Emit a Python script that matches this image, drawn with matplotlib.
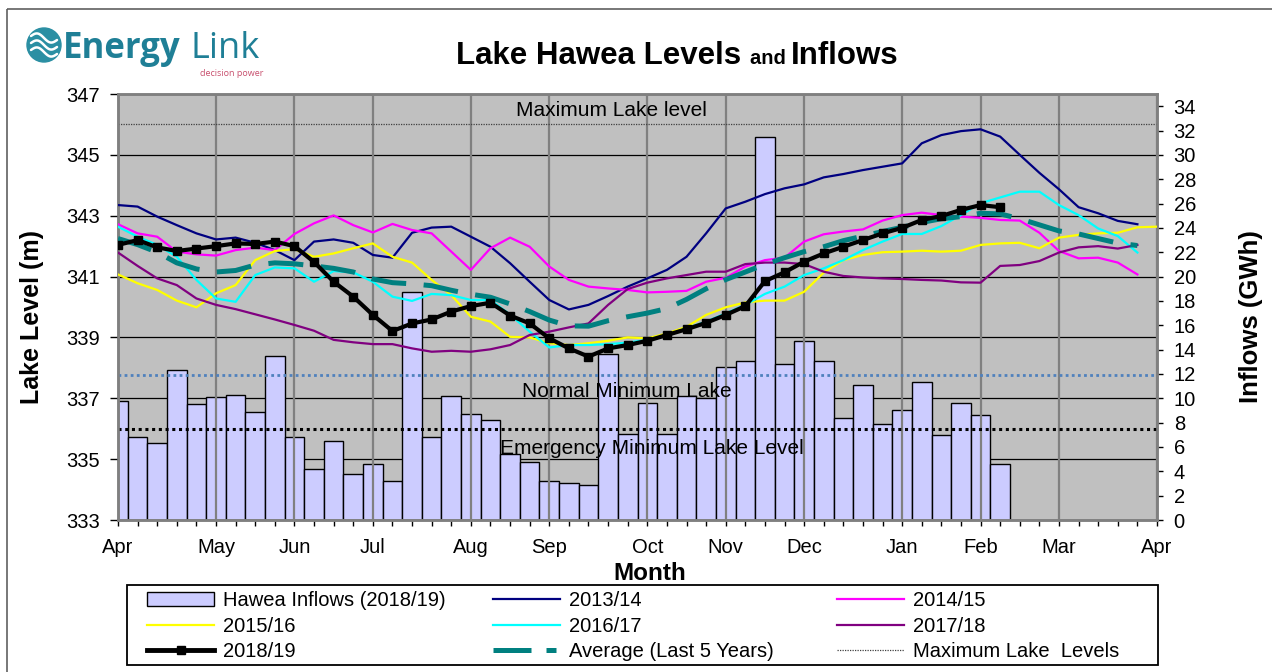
import matplotlib
matplotlib.use('Agg')
import matplotlib.pyplot as plt
import numpy as np
from matplotlib.patches import Circle, Rectangle, Patch
from matplotlib.lines import Line2D

plt.rcParams['font.family'] = ['Liberation Sans', 'DejaVu Sans']

# ---------------- data ----------------
month_labels = ['Apr', 'May', 'Jun', 'Jul', 'Aug', 'Sep', 'Oct', 'Nov', 'Dec',
                'Jan', 'Feb', 'Mar', 'Apr']
month_weeks = [0, 5, 9, 13, 18, 22, 27, 31, 35, 40, 44, 48, 53]

inflows_2018_19 = [9.8, 6.8, 6.3, 12.3, 9.5, 10.1, 10.3, 8.9, 13.5, 6.8,
                   4.2, 6.5, 3.8, 4.6, 3.2, 18.7, 6.8, 10.2, 8.7, 8.2,
                   5.4, 4.8, 3.2, 3.0, 2.9, 13.6, 7.1, 9.6, 7.1, 10.2,
                   10.0, 12.6, 13.1, 31.5, 12.8, 14.7, 13.1, 8.4, 11.1, 7.9,
                   9.0, 11.3, 7.0, 9.6, 8.6, 4.6]

level_2013_14 = [343.35, 343.30, 342.97, 342.69, 342.42, 342.22, 342.28, 342.11, 341.87, 341.54,
                 342.15, 342.22, 342.11, 341.71, 341.62, 342.44, 342.61, 342.64, 342.31, 341.98,
                 341.44, 340.83, 340.23, 339.92, 340.07, 340.36, 340.67, 340.94, 341.22, 341.65,
                 342.42, 343.24, 343.46, 343.71, 343.90, 344.03, 344.26, 344.37, 344.50, 344.61,
                 344.72, 345.38, 345.65, 345.78, 345.84, 345.60, 345.00, 344.41, 343.87, 343.28,
                 343.08, 342.83, 342.72]
level_2014_15 = [342.72, 342.42, 342.31, 341.82, 341.73, 341.69, 341.87, 341.95, 341.87, 342.40,
                 342.75, 343.01, 342.69, 342.45, 342.73, 342.53, 342.42, 341.82, 341.22, 341.93,
                 342.28, 341.98, 341.33, 340.89, 340.67, 340.61, 340.56, 340.48, 340.50, 340.53,
                 340.83, 340.96, 341.33, 341.54, 341.62, 342.15, 342.39, 342.48, 342.55, 342.84,
                 343.02, 343.10, 343.02, 342.97, 342.93, 342.86, 342.84, 342.44, 341.84, 341.60,
                 341.62, 341.46, 341.07]
level_2015_16 = [341.07, 340.78, 340.56, 340.21, 339.99, 340.45, 340.72, 341.54, 341.84, 341.90,
                 341.65, 341.76, 341.93, 342.09, 341.65, 341.46, 340.89, 340.39, 339.68, 339.52,
                 339.02, 339.00, 338.81, 338.75, 338.81, 338.89, 339.00, 338.97, 339.13, 339.35,
                 339.74, 339.99, 340.15, 340.21, 340.21, 340.50, 341.13, 341.54, 341.71, 341.80,
                 341.82, 341.85, 341.82, 341.85, 342.04, 342.09, 342.11, 341.93, 342.28, 342.37,
                 342.42, 342.44, 342.62, 342.64]
level_2016_17 = [342.64, 342.31, 342.04, 341.65, 340.89, 340.28, 340.17, 341.05, 341.30, 341.27,
                 340.83, 341.18, 341.14, 340.83, 340.34, 340.20, 340.43, 340.39, 340.23, 340.23,
                 339.75, 339.19, 338.67, 338.75, 338.75, 338.78, 338.83, 338.92, 339.08, 339.30,
                 339.52, 339.79, 340.07, 340.43, 340.67, 341.05, 341.27, 341.54, 341.87, 342.15,
                 342.40, 342.40, 342.66, 343.02, 343.41, 343.60, 343.79, 343.79, 343.35, 343.02,
                 342.58, 342.33, 341.79]
level_2017_18 = [341.79, 341.35, 340.94, 340.72, 340.28, 340.07, 339.93, 339.76, 339.59, 339.41,
                 339.22, 338.92, 338.84, 338.78, 338.78, 338.64, 338.53, 338.56, 338.53, 338.61,
                 338.75, 339.08, 339.19, 339.33, 339.46, 340.07, 340.59, 340.80, 340.94, 341.05,
                 341.16, 341.16, 341.41, 341.46, 341.46, 341.41, 341.16, 341.02, 340.97, 340.94,
                 340.92, 340.89, 340.87, 340.81, 340.80, 341.35, 341.38, 341.51, 341.79, 341.96,
                 342.00, 341.92, 342.04]
level_2018_19 = [342.04, 342.20, 341.96, 341.84, 341.92, 342.00, 342.09, 342.07, 342.15, 342.00,
                 341.48, 340.83, 340.34, 339.74, 339.21, 339.46, 339.59, 339.85, 340.03, 340.14,
                 339.72, 339.46, 338.97, 338.64, 338.37, 338.64, 338.75, 338.89, 339.08, 339.27,
                 339.48, 339.74, 340.03, 340.85, 341.14, 341.49, 341.76, 341.98, 342.20, 342.42,
                 342.60, 342.86, 342.99, 343.19, 343.35, 343.28]
level_avg_5yr = [342.25, 342.05, 341.80, 341.45, 341.25, 341.15, 341.20, 341.38, 341.45, 341.42,
                 341.35, 341.27, 341.15, 340.92, 340.80, 340.76, 340.70, 340.55, 340.42, 340.32,
                 340.10, 339.85, 339.57, 339.38, 339.37, 339.55, 339.68, 339.80, 339.95, 340.25,
                 340.60, 340.90, 341.15, 341.40, 341.62, 341.82, 341.98, 342.18, 342.33, 342.48,
                 342.62, 342.78, 342.90, 342.97, 343.08, 343.06, 342.90, 342.70, 342.50, 342.40,
                 342.25, 342.10, 342.02]

max_lake_level = 346.0
normal_min_level = 337.78
emergency_min_level = 336.0

level_ticks = list(range(333, 348, 2))
inflow_ticks = list(range(0, 35, 2))

# ---------------- figure ----------------
W, H = 1272, 672
fig = plt.figure(figsize=(W / 100, H / 100), dpi=100)

ov = fig.add_axes([0, 0, 1, 1], zorder=0)
ov.set_xlim(0, W)
ov.set_ylim(H, 0)
ov.axis('off')

# outer frame (left/top visible)
ov.add_patch(Rectangle((7, 9), 1300, 700, fill=False, edgecolor='#606060', lw=1.2))

# logo
ov.add_patch(Circle((44, 45), 17, color='#2b8fa3'))
tt = np.linspace(0, 1, 50)
for off in (-7, 0, 7):
    xs = 31 + 26 * tt
    ys = 45 + off - 3.5 * np.sin(2 * np.pi * tt) + 4 * (tt - 0.5)
    ov.plot(xs, ys, color='white', lw=1.8, solid_capstyle='round')
ov.text(63, 58, 'Energy', fontsize=25, fontweight='bold', color='#1f7f96',
        family=['Open Sans', 'DejaVu Sans'], ha='left', va='baseline')
ov.text(191, 58, 'Link', fontsize=26, color='#1f7f96',
        family=['Open Sans', 'DejaVu Sans'], ha='left', va='baseline')
ov.text(263, 69, 'decision power', fontsize=6.5, color='#c8506e',
        family=['Open Sans', 'DejaVu Sans'], ha='right', va='top')

# main axes: bars (right axis) and levels (left axis)
ax_bar = fig.add_axes([118 / W, 1 - 520 / H, 1039 / W, 426 / H], zorder=1)
ax_lvl = ax_bar.twinx()
ax_bar.set_facecolor('#c0c0c0')

ax_bar.set_xlim(0, 53)
ax_bar.set_ylim(0, 35)
ax_lvl.set_ylim(333, 347)

# horizontal grid (behind bars), in lake-level coordinates
ax_lvl.set_yticks(level_ticks)
for lv in level_ticks:
    ax_bar.plot([0, 1], [lv, lv], transform=ax_lvl.get_yaxis_transform(),
                color='black', lw=0.9, zorder=1)

weeks_in = np.arange(len(inflows_2018_19))
ax_bar.bar(weeks_in, inflows_2018_19, width=1.0, color='#ccccff',
           edgecolor='black', linewidth=1.0, zorder=2)
for w in month_weeks:
    ax_bar.axvline(w, color='#808080', lw=1.6, zorder=3)

# reference levels
ax_lvl.axhline(max_lake_level, color='#404040', lw=0.9, ls=(0, (1, 1)), zorder=1)
ax_lvl.axhline(normal_min_level, color='#4f81bd', lw=2.0, ls=(0, (1, 1.2)), zorder=1)
ax_lvl.axhline(emergency_min_level, color='black', lw=2.2, ls=(0, (1, 1.2)), zorder=1)
ax_lvl.text(20.3, 346.45, 'Maximum Lake level', fontsize=15, ha='left', va='center')
ax_lvl.text(20.6, 337.22, 'Normal Minimum Lake', fontsize=15, ha='left', va='center')
ax_lvl.text(19.5, 335.36, 'Emergency Minimum Lake Level', fontsize=15, ha='left', va='center')

series = [
    (level_2013_14, '#000080', '2013/14'),
    (level_2014_15, '#ff00ff', '2014/15'),
    (level_2015_16, '#ffff00', '2015/16'),
    (level_2016_17, '#00ffff', '2016/17'),
    (level_2017_18, '#800080', '2017/18'),
]
handles = {}
for vals, col, lab in series:
    ln, = ax_lvl.plot(np.arange(len(vals)), vals, color=col, lw=1.6, zorder=3, label=lab)
    handles[lab] = ln
avg_ln, = ax_lvl.plot(np.arange(len(level_avg_5yr)), level_avg_5yr, color='#008080',
                      lw=3.6, dashes=(7, 3.5), zorder=4, label='Average (Last 5 Years)')
blk_ln, = ax_lvl.plot(np.arange(len(level_2018_19)), level_2018_19, color='black', lw=3,
                      marker='s', ms=6, zorder=5, label='2018/19')

# ticks & spines
TFS = 14.5
ax_bar.set_xticks(month_weeks)
ax_bar.set_xticklabels(month_labels, fontsize=TFS)
ax_bar.set_xticks(np.arange(0, 54), minor=True)
ax_bar.tick_params(axis='x', which='both', direction='out', length=4, width=1,
                   color='black', pad=9)
ax_bar.yaxis.tick_right()
ax_bar.set_yticks(inflow_ticks)
ax_bar.set_yticklabels([str(v) for v in inflow_ticks], fontsize=TFS)
ax_bar.tick_params(axis='y', direction='out', length=4, width=1, pad=8)

ax_lvl.yaxis.tick_left()
ax_lvl.set_yticklabels([str(v) for v in level_ticks], fontsize=TFS)
ax_lvl.tick_params(axis='y', direction='out', length=6, width=1, pad=7)

for a in (ax_bar, ax_lvl):
    for s in a.spines.values():
        s.set_color('#808080')
        s.set_linewidth(1.8)

# axis titles
ov.text(32, 317, 'Lake Level (m)', fontsize=18, fontweight='bold', rotation=90,
        ha='center', va='center')
ov.text(1251, 317, 'Inflows (GWh)', fontsize=18.5, fontweight='bold', rotation=90,
        ha='center', va='center')
ov.text(650, 574, 'Month', fontsize=17.5, fontweight='bold', ha='center', va='center')

# title built from runs
runs = [('Lake Hawea Levels ', 22.5), ('and ', 14.5), ('Inflows', 22.5)]
fig.canvas.draw()
r = fig.canvas.get_renderer()
objs = []
for txt, fs in runs:
    t = ov.text(0, 64, txt, fontsize=fs, fontweight='bold', ha='left', va='baseline')
    objs.append(t)
widths = [t.get_window_extent(r).width for t in objs]
x = 677.5 - sum(widths) / 2
for t, wdt in zip(objs, widths):
    t.set_x(x)
    x += wdt

# legend: frame + three columns
ov.add_patch(Rectangle((127, 585), 1031, 80, fill=False, edgecolor='black', lw=1.3))
bar_h = Patch(facecolor='#ccccff', edgecolor='black', linewidth=1)
max_h = Line2D([], [], color='#404040', lw=0.9, ls=(0, (1, 1)))
blk_h = Line2D([], [], color='black', lw=3.5, marker='s', ms=6)
avg_h = Line2D([], [], color='#008080', lw=3.6, dashes=(7.6, 3, 2, 10))
columns = [
    (147, [bar_h, handles['2015/16'], blk_h], ['Hawea Inflows (2018/19)', '2015/16', '2018/19']),
    (493, [handles['2013/14'], handles['2016/17'], avg_h], ['2013/14', '2016/17', 'Average (Last 5 Years)']),
    (837, [handles['2014/15'], handles['2017/18'], max_h], ['2014/15', '2017/18', 'Maximum Lake  Levels']),
]
for xpix, hs, ls_ in columns:
    lg = fig.legend(hs, ls_, loc='upper left', bbox_to_anchor=(xpix / W, 1 - 591 / H),
                    fontsize=14.5, frameon=False, handlelength=3.35, handletextpad=0.4,
                    labelspacing=0.33, borderaxespad=0, borderpad=0, numpoints=1)

fig.savefig('out.png', dpi=100)
